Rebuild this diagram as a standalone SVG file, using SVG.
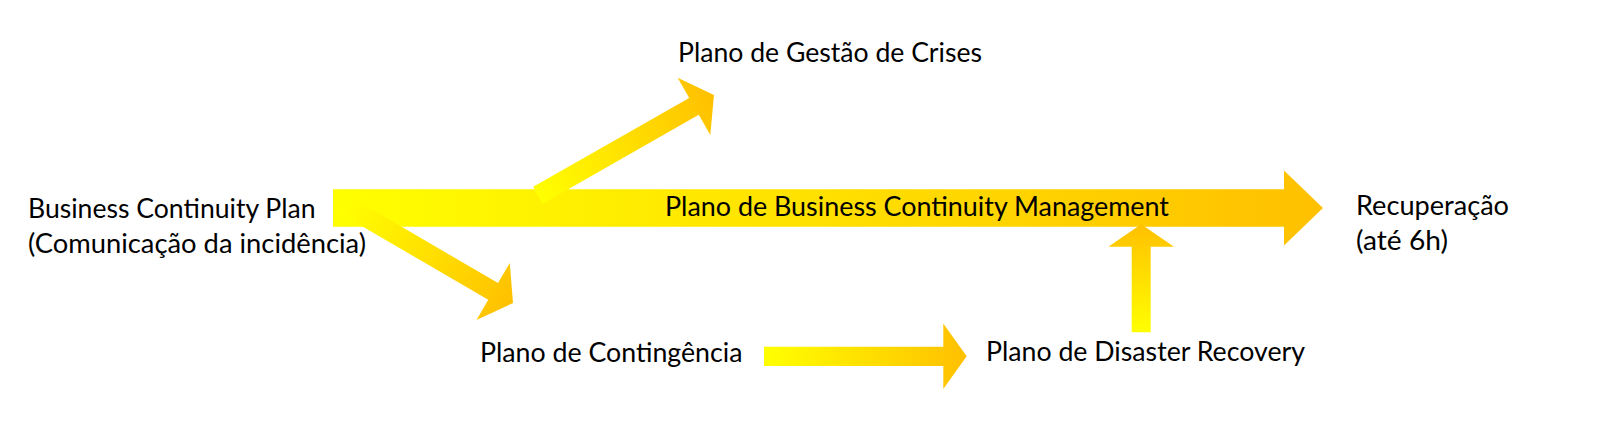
<svg xmlns="http://www.w3.org/2000/svg" width="1600" height="433" viewBox="0 0 1600 433">
  <style>
    .lbl { font-family: Lato, "Open Sans", "Liberation Sans", sans-serif; font-size: 27px; fill: #000000; }
  </style>
  <defs>
    <linearGradient id="grad" x1="0" y1="0" x2="1" y2="0">
      <stop offset="0" stop-color="#FFFF00"/>
      <stop offset="1" stop-color="#FFC000"/>
    </linearGradient>
  </defs>
  <rect width="1600" height="433" fill="#FFFFFF"/>

  <g id="connectors">
    <!-- main: Business Continuity Plan -> Recuperação -->
    <path id="main-arrow" transform="translate(333,208)" fill="url(#grad)"
          d="M0,-18.7 L951,-18.7 L951,-37.4 L990,0 L951,37.4 L951,18.7 L0,18.7 Z"/>
    <!-- to Plano de Gestão de Crises -->
    <path id="arrow-gestao" transform="translate(538,195.2) rotate(-29.65)" fill="url(#grad)"
          d="M0,-9.7 L179.5,-9.7 L179.5,-33 L202.5,0 L179.5,33 L179.5,9.7 L0,9.7 Z"/>
    <!-- to Plano de Contingência -->
    <path id="arrow-contingencia" transform="translate(345,205) rotate(30.26)" fill="url(#grad)"
          d="M0,-9.7 L171.5,-9.7 L171.5,-33 L194.5,0 L171.5,33 L171.5,9.7 L0,9.7 Z"/>
    <!-- Contingência -> Disaster Recovery -->
    <path id="arrow-dr" transform="translate(764,356.3)" fill="url(#grad)"
          d="M0,-9.65 L179.3,-9.65 L179.3,-32.8 L202.7,0 L179.3,32.8 L179.3,9.65 L0,9.65 Z"/>
    <!-- Disaster Recovery -> BCM -->
    <path id="arrow-up" transform="translate(1141.2,332.3) rotate(-90)" fill="url(#grad)"
          d="M0,-9.5 L85.6,-9.5 L85.6,-32.8 L108,0 L85.6,32.8 L85.6,9.5 L0,9.5 Z"/>
  </g>

  <g id="node-bcm">
    <text class="lbl" x="665" y="216" textLength="504" lengthAdjust="spacingAndGlyphs">Plano de Business Continuity Management</text>
  </g>

  <g id="node-bcp">
    <text class="lbl" x="28" y="217.7" textLength="287.5" lengthAdjust="spacingAndGlyphs">Business Continuity Plan</text>
    <text class="lbl" x="28" y="252.5" textLength="338" lengthAdjust="spacingAndGlyphs">(Comunicação da incidência)</text>
  </g>

  <g id="node-gestao">
    <text class="lbl" x="678" y="61.7" textLength="304" lengthAdjust="spacingAndGlyphs">Plano de Gestão de Crises</text>
  </g>

  <g id="node-recuperacao">
    <text class="lbl" x="1356" y="215" textLength="153" lengthAdjust="spacingAndGlyphs">Recuperação</text>
    <text class="lbl" x="1356" y="250" textLength="92" lengthAdjust="spacingAndGlyphs">(até 6h)</text>
  </g>

  <g id="node-contingencia">
    <text class="lbl" x="480" y="361.7" textLength="262.5" lengthAdjust="spacingAndGlyphs">Plano de Contingência</text>
  </g>

  <g id="node-dr">
    <text class="lbl" x="986" y="361" textLength="319" lengthAdjust="spacingAndGlyphs">Plano de Disaster Recovery</text>
  </g>
</svg>
